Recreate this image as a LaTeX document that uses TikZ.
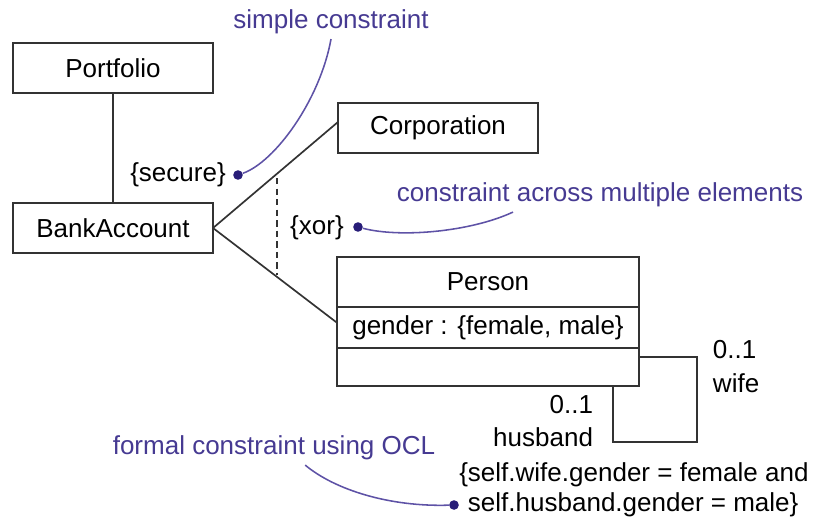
\documentclass[tikz,border=0pt]{standalone}
\usepackage{fontspec}
\setmainfont{Liberation Sans}
\usetikzlibrary{calc}
\definecolor{boxline}{HTML}{333333}
\definecolor{notetext}{HTML}{463A92}
\definecolor{notedot}{HTML}{281D78}
\definecolor{notecurve}{HTML}{5E52A6}
\tikzset{
  umlbox/.style={draw=boxline, line width=1.3pt, fill=white, inner sep=0pt,
                 outer sep=0pt, minimum height=1.25cm},
  assoc/.style={draw=boxline, line width=1.2pt},
  notelabel/.style={text=notetext},
  anchordot/.style={circle, fill=notedot, inner sep=0pt, minimum size=0.24cm},
  notelink/.style={draw=notecurve, line width=1.1pt}
}
\newcommand{\classbox}[4]{%
  \node[umlbox, minimum width=5cm] (#1) at (#2,#3) {#4};}

\begin{document}
\begin{tikzpicture}[x=0.025cm, y=-0.025cm, font=\fontsize{18.5}{22}\selectfont]
      \useasboundingbox (0,0) rectangle (814,520);
      % classes
      \classbox{portfolio}{113}{68}{Portfolio}
      \classbox{bank}{113}{228}{BankAccount}
      \classbox{corp}{438}{128}{Corporation}
      \node[umlbox, minimum width=7.55cm] (person) at (488,282) {Person};
      \node[umlbox, minimum width=7.55cm, minimum height=1.025cm, anchor=north]
           (pattr) at (person.south) {gender : \{female, male\}};
      \node[umlbox, minimum width=7.55cm, minimum height=0.95cm, anchor=north]
           (pops) at (pattr.south) {};
      % associations
      \draw[assoc] (portfolio.south) -- (bank.north);
      \draw[assoc] (bank.east) -- ([yshift=0.15cm]corp.west);
      \draw[assoc] (bank.east) -- ([yshift=0.12cm]pattr.west);
      \coordinate (loopcorner) at (697,442);
      \draw[assoc] ([yshift=0.25cm]pops.east) -| (loopcorner)
                   -| ([xshift=3.125cm]pops.south);
      \node[anchor=west] (wifemult) at (708,350) {0..1};
      \node[anchor=west] (wiferole) at (708,383) {wife};
      \node[anchor=east] (husbmult) at (598,405) {0..1};
      \node[anchor=east] (husbrole) at (598,437) {husband};
      % xor between the two bank links
      \coordinate (xortop) at (277,178);
      \coordinate (xorbot) at (277,275);
      \draw[assoc, dash pattern=on 4.5pt off 3pt] (xortop) -- (xorbot);
      % constraints and their notes
      \node (secure) at (178,175) {\{secure\}};
      \node[anchordot] (securedot) at (238,175) {};
      \node[notelabel] (simple) at (331,22) {simple constraint};
      \draw[notelink] (securedot) .. controls (275,162) and (320,100) .. (simple.south);
      \node (xor) at (317,228) {\{xor\}};
      \node[anchordot] (xordot) at (358,227) {};
      \node[notelabel] (across) at (600,195) {constraint across multiple elements};
      \draw[notelink] (xordot) .. controls (400,238) and (470,232)
                      .. ([xshift=-2.175cm]across.south);
      \node[anchor=west, align=left, font=\fontsize{18.5}{21.3}\selectfont]
           (ocltext) at (463,490)
           {\llap{\{}self.wife.gender = female and\\self.husband.gender = male\}};
      \node[anchordot] (ocldot) at (454,505) {};
      \node[notelabel] (ocl) at (274,448) {formal constraint using OCL};
      \draw[notelink] (ocldot) .. controls (390,507) and (335,490)
                      .. ([xshift=0.78cm]ocl.south);
    \end{tikzpicture}
\end{document}
